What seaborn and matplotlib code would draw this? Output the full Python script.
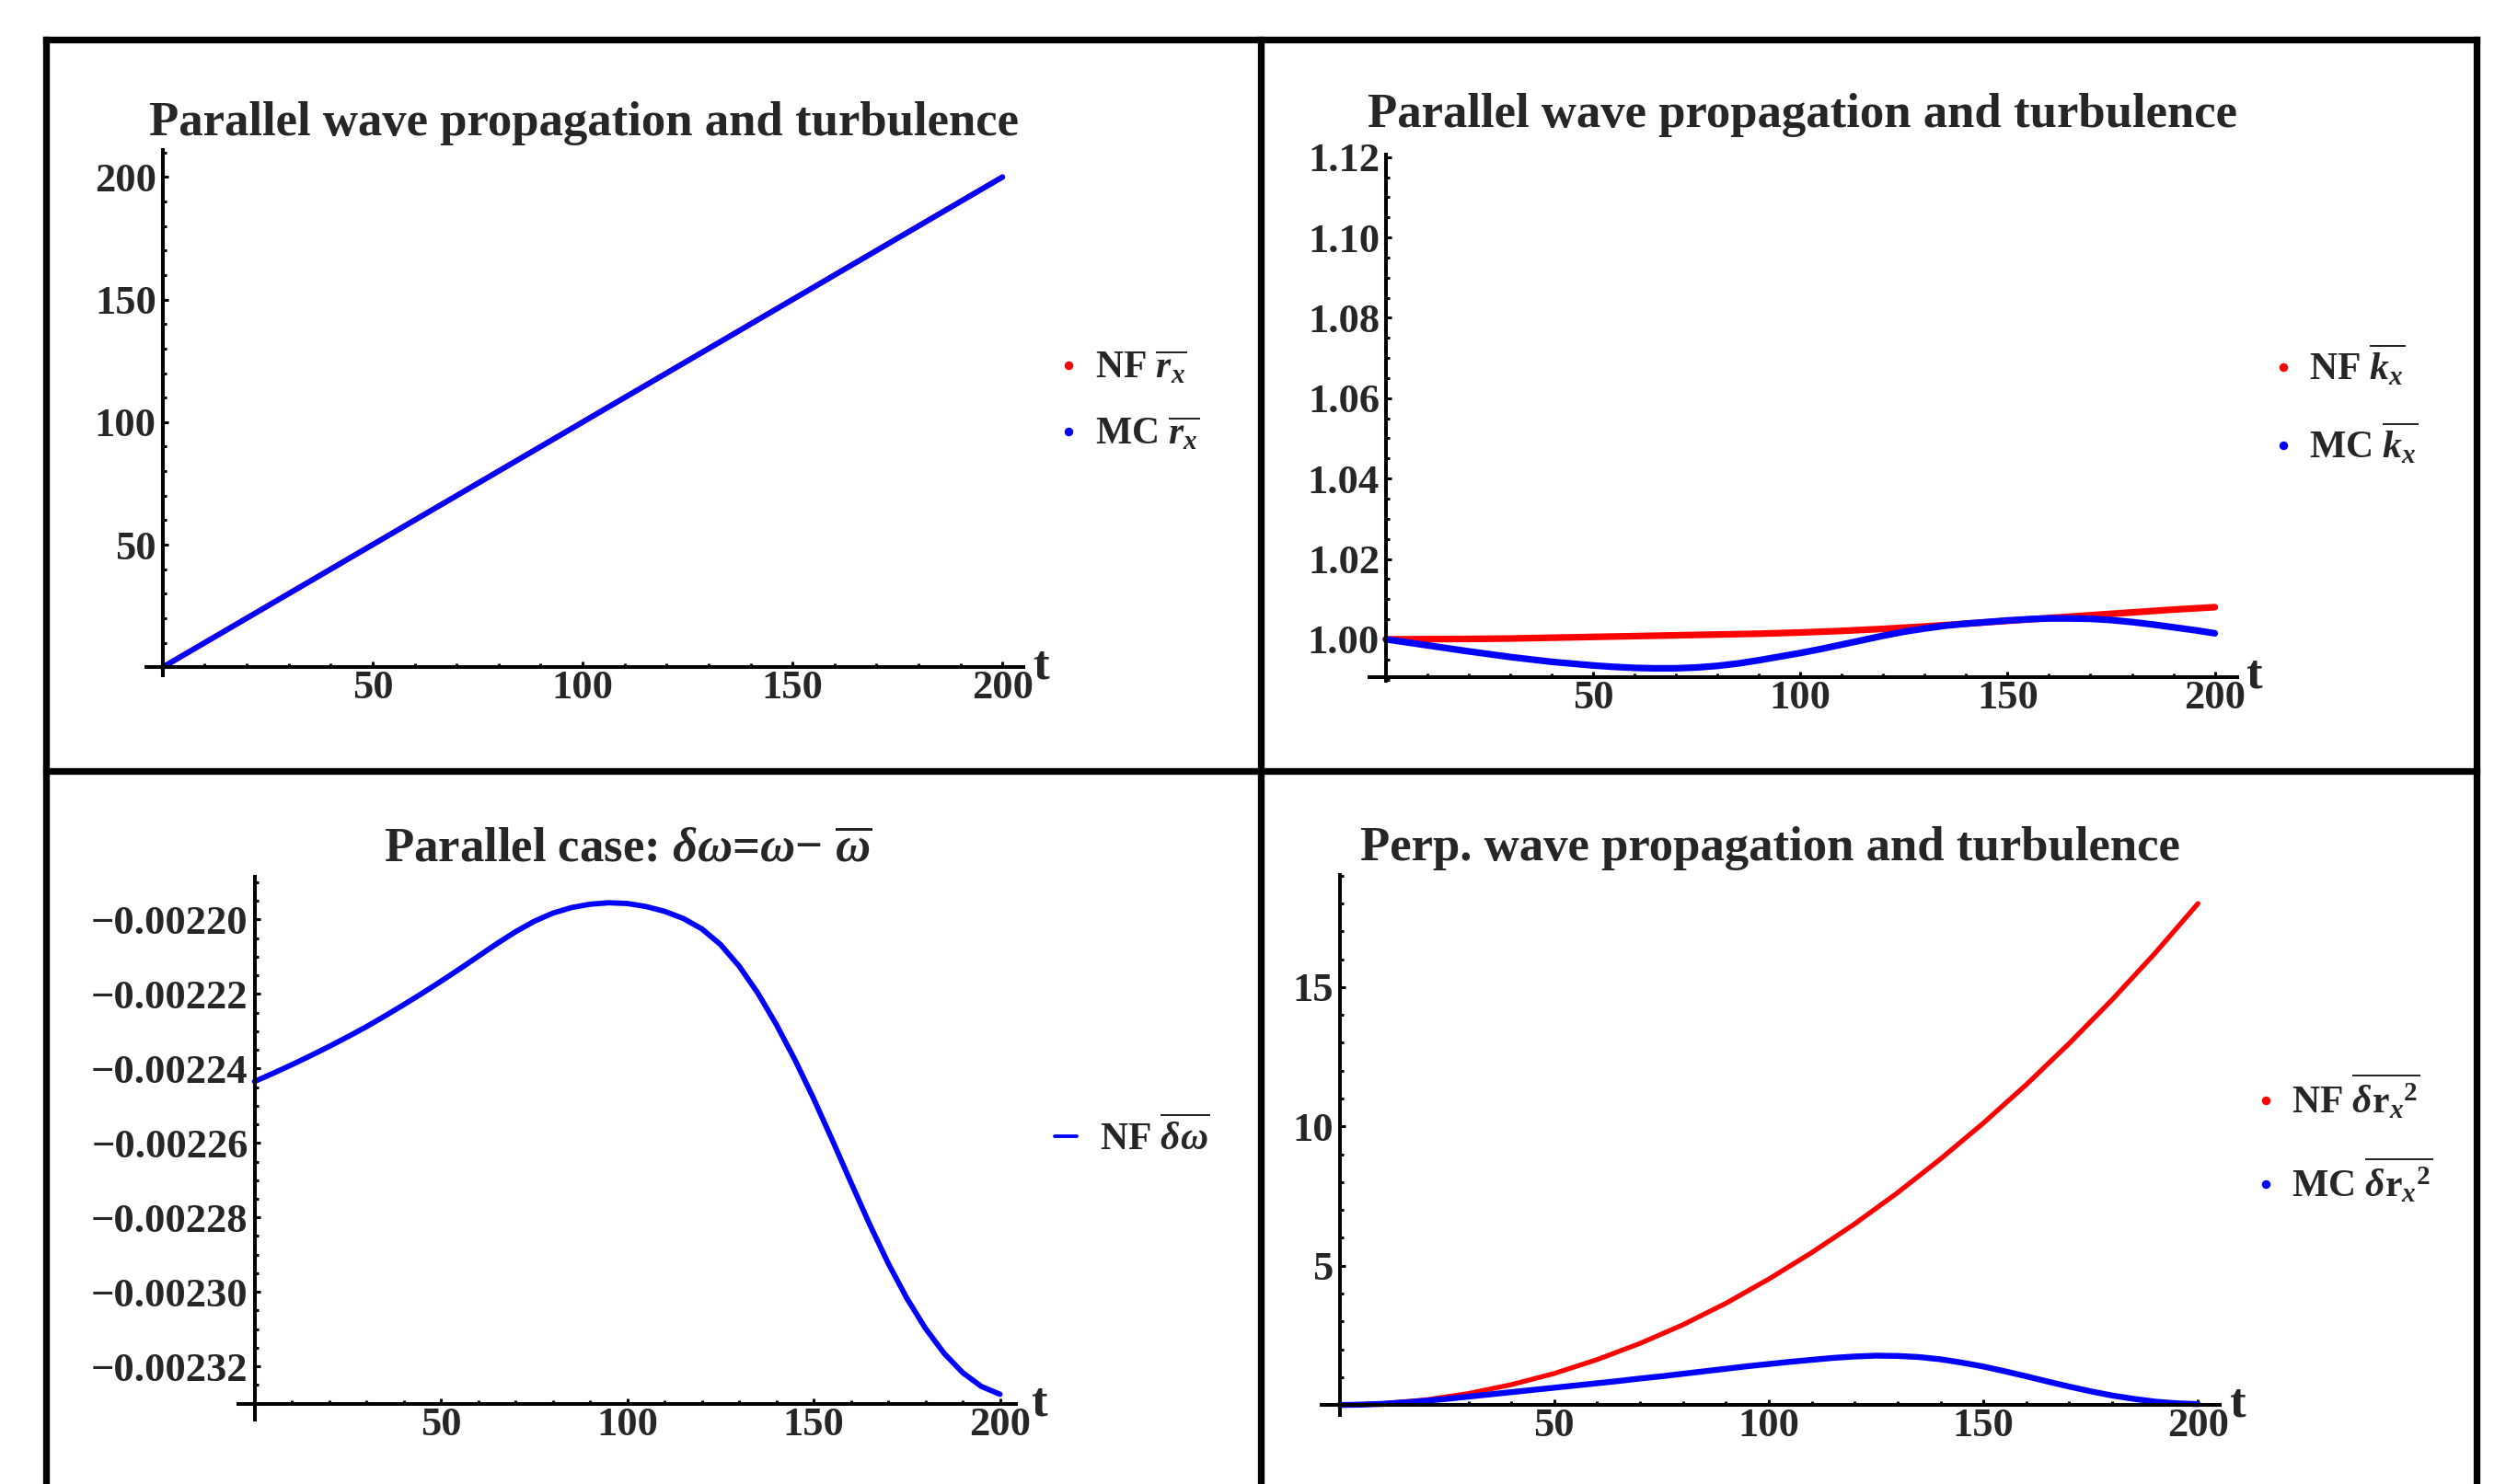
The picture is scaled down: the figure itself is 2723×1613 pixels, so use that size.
import matplotlib
matplotlib.use('Agg')
import matplotlib.pyplot as plt
import seaborn as sns
from matplotlib.lines import Line2D
from matplotlib.ticker import FixedLocator, MultipleLocator, FuncFormatter

# time grids
t10 = [0, 10, 20, 30, 40, 50, 60, 70, 80, 90, 100,
       110, 120, 130, 140, 150, 160, 170, 180, 190, 200]
t5 = [0, 5, 10, 15, 20, 25, 30, 35, 40, 45, 50, 55, 60, 65, 70, 75, 80, 85, 90, 95, 100,
      105, 110, 115, 120, 125, 130, 135, 140, 145, 150, 155, 160, 165, 170, 175, 180,
      185, 190, 195, 200]

# parallel: mean r_x
rx_nf = [0, 10, 20, 30, 40, 50, 60, 70, 80, 90, 100,
         110, 120, 130, 140, 150, 160, 170, 180, 190, 200]
rx_mc = [0, 10, 20, 30, 40, 50, 60, 70, 80, 90, 100,
         110, 120, 130, 140, 150, 160, 170, 180, 190, 200]

# parallel: mean k_x (NF on t10, MC on t5)
kx_nf = [1.0000, 1.00005, 1.0001, 1.0002, 1.0004, 1.0006, 1.0008, 1.0010, 1.0012, 1.0014, 1.0017,
         1.0021, 1.0026, 1.0032, 1.0039, 1.0046, 1.0053, 1.0060, 1.0067, 1.0074, 1.0080]
kx_mc = [1.0000, 0.99925, 0.9985, 0.99775, 0.9970, 0.9963, 0.9956, 0.9950, 0.9944, 0.99395,
         0.9935, 0.99315, 0.9929, 0.99278, 0.9928, 0.9930, 0.9934, 0.9940, 0.9948, 0.9957,
         0.9966, 0.9976, 0.9987, 0.9998, 1.0009, 1.0019, 1.0027, 1.0034, 1.0039, 1.0043,
         1.0047, 1.0050, 1.0052, 1.0052, 1.0051, 1.0048, 1.0043, 1.0037, 1.0030, 1.0023, 1.0015]

# parallel: delta omega (t5)
dw_nf = [-0.0022435, -0.0022413, -0.0022390, -0.0022366, -0.0022341, -0.0022315, -0.0022288,
         -0.0022259, -0.0022229, -0.0022198, -0.0022166, -0.0022133, -0.0022099, -0.0022065,
         -0.0022033, -0.0022005, -0.0021983, -0.0021968, -0.0021959, -0.0021955, -0.0021957,
         -0.0021965, -0.0021978, -0.0021997, -0.0022025, -0.0022067, -0.0022125, -0.0022197,
         -0.0022282, -0.0022377, -0.0022481, -0.0022592, -0.0022706, -0.0022818, -0.0022923,
         -0.0023017, -0.0023098, -0.0023165, -0.0023217, -0.0023254, -0.0023275]

# perpendicular: delta r_x^2 (NF on t10, MC on t5)
dr2_nf = [0, 0.05, 0.18, 0.41, 0.73, 1.13, 1.63, 2.21, 2.88, 3.65, 4.52,
          5.47, 6.50, 7.62, 8.83, 10.12, 11.50, 12.98, 14.55, 16.22, 18.0]
dr2_mc = [0, 0.01, 0.04, 0.09, 0.15, 0.22, 0.30, 0.38, 0.46, 0.54, 0.62, 0.70, 0.78, 0.86,
          0.95, 1.03, 1.12, 1.21, 1.30, 1.39, 1.47, 1.55, 1.62, 1.69, 1.74, 1.77, 1.76, 1.72,
          1.64, 1.52, 1.38, 1.21, 1.03, 0.84, 0.66, 0.49, 0.34, 0.22, 0.12, 0.06, 0.03]

t_ticks = [50, 100, 150, 200]
rx_ticks = [50, 100, 150, 200]
kx_ticks = [1.00, 1.02, 1.04, 1.06, 1.08, 1.10, 1.12]
dw_ticks = [-0.00232, -0.00230, -0.00228, -0.00226, -0.00224, -0.00222, -0.00220]
dr2_ticks = [5, 10, 15]

sns.set_style('white')
plt.rcParams['font.family'] = ['Liberation Serif', 'DejaVu Serif']
plt.rcParams['font.weight'] = 'bold'
plt.rcParams['mathtext.fontset'] = 'custom'
plt.rcParams['mathtext.rm'] = 'Liberation Serif:bold'
plt.rcParams['mathtext.bf'] = 'Liberation Serif:bold'
plt.rcParams['mathtext.it'] = 'Liberation Serif:italic:bold'
plt.rcParams['axes.unicode_minus'] = True

W, H = 2723, 1613
fig = plt.figure(figsize=(W / 200, H / 200), dpi=200)
fig.patch.set_facecolor('white')


def px_axes(box):
    l, t, r, b = box
    return fig.add_axes([l / W, 1 - b / H, (r - l) / W, (b - t) / H])


def style_axes(ax, xlim, ylim, x_axis_y, yticks, yminor, yfmt, t_dx=3.5):
    ax.set_xlim(xlim)
    ax.set_ylim(ylim)
    ax.patch.set_alpha(0)
    ax.set_xlabel('')
    ax.set_ylabel('')
    for s in ('top', 'right'):
        ax.spines[s].set_visible(False)
    ax.spines['left'].set_position(('data', 0))
    ax.spines['bottom'].set_position(('data', x_axis_y))
    for s in ('left', 'bottom'):
        ax.spines[s].set_linewidth(1.45)
        ax.spines[s].set_color('black')
    ax.xaxis.set_major_locator(FixedLocator(t_ticks))
    ax.xaxis.set_minor_locator(MultipleLocator(10))
    ax.xaxis.set_major_formatter(FuncFormatter(lambda v, p: '%d' % v))
    ax.yaxis.set_major_locator(FixedLocator(yticks))
    ax.yaxis.set_minor_locator(MultipleLocator(yminor))
    ax.yaxis.set_major_formatter(FuncFormatter(yfmt))
    ax.tick_params(which='both', direction='in', color='black', width=1.1,
                   bottom=True, left=True, top=False, right=False)
    ax.tick_params(which='major', length=2.3, labelsize=16)
    ax.tick_params(which='minor', length=1.3)
    ax.tick_params(axis='x', pad=1)
    ax.tick_params(axis='y', pad=2.5)
    ax.annotate('t', xy=(1, x_axis_y), xycoords=('axes fraction', 'data'),
                xytext=(t_dx, -4.3), textcoords='offset points', fontsize=19,
                ha='left', va='baseline', annotation_clip=False)


def dot(c):
    return Line2D([], [], ls='', marker='o', ms=2.4, color=c)


def add_legend(ax, handles, labels, left_px, cy_px, hl, htp, ls):
    ax.legend(handles, labels, loc='center left',
              bbox_to_anchor=(left_px / W, 1 - cy_px / H), bbox_transform=fig.transFigure,
              frameon=False, fontsize=15, handlelength=hl, handletextpad=htp,
              labelspacing=ls, borderpad=0, borderaxespad=0, handleheight=0.7)


def title(cx, base, s):
    fig.text(cx / W, 1 - base / H, s, ha='center', va='baseline', fontsize=19)


int_fmt = lambda v, p: '%d' % v

# top left: r_x
ax1 = px_axes((158.5, 163.1, 1112.1, 734.3))
sns.lineplot(x=t10, y=rx_nf, ax=ax1, color='red', linewidth=2.1, legend=False)
sns.lineplot(x=t10, y=rx_mc, ax=ax1, color='blue', linewidth=2.1, legend=False)
style_axes(ax1, (-4, 205), (-3.4, 211), 0, rx_ticks, 10, int_fmt)
add_legend(ax1, [dot('red'), dot('blue')],
           [r'NF $\overline{r_x}$', r'MC $\overline{r_x}$'], 1144, 436, 0.8, 0.31, 0.75)
title(634, 147, 'Parallel wave propagation and turbulence')

# top right: k_x
ax2 = px_axes((1488, 168.1, 2430.9, 739.9))
sns.lineplot(x=t10, y=kx_nf, ax=ax2, color='red', linewidth=2.6, legend=False)
sns.lineplot(x=t5, y=kx_mc, ax=ax2, color='blue', linewidth=2.6, legend=False)
style_axes(ax2, (-4, 205.4), (0.9897, 1.1206), 0.9906, kx_ticks, 0.005,
           lambda v, p: '%.2f' % v)
add_legend(ax2, [dot('red'), dot('blue')],
           [r'NF $\overline{k_x}$', r'MC $\overline{k_x}$'], 2464, 440, 0.8, 0.28, 0.85)
title(1958.5, 138, 'Parallel wave propagation and turbulence')

# bottom left: delta omega
ax3 = px_axes((259.1, 952.5, 1103.6, 1543.4))
sns.lineplot(x=t5, y=dw_nf, ax=ax3, color='blue', linewidth=2.1, legend=False)
style_axes(ax3, (-4.3, 204.2), (-0.0023344, -0.0021884), -0.0023302, dw_ticks, 0.000005,
           lambda v, p: '\u2212%.5f' % abs(v) if v < 0 else '%.5f' % v, t_dx=6)
add_legend(ax3, [Line2D([], [], color='blue', lw=1.4)],
           [r'NF $\overline{\delta\omega}$'], 1145.5, 1236, 0.58, 0.6, 0.8)
title(681.7, 936, 'Parallel case: $\\delta\\omega$=$\\omega$\u2212 $\\overline{\\omega}$')

# bottom right: delta r_x^2
ax4 = px_axes((1436.5, 950.6, 2412.1, 1538.0))
sns.lineplot(x=t10, y=dr2_nf, ax=ax4, color='red', linewidth=1.9, legend=False)
sns.lineplot(x=t5, y=dr2_mc, ax=ax4, color='blue', linewidth=2.3, legend=False)
style_axes(ax4, (-4.1, 205.1), (-0.36, 19.04), 0, dr2_ticks, 1, int_fmt)
add_legend(ax4, [dot('red'), dot('blue')],
           [r'NF $\overline{\delta{\mathrm{r}_x}^2}$', r'MC $\overline{\delta{\mathrm{r}_x}^2}$'],
           2445, 1238, 0.8, 0.28, 0.9)
title(1923, 935, 'Perp. wave propagation and turbulence')

# table frame
lw_frame = 7.3 * 72 / 200
frame = [((49.7, 2691.3), (43, 43)),
         ((49.7, 2691.3), (838, 838)),
         ((49.7, 49.7), (43, 1625)),
         ((1370, 1370), (43, 1625)),
         ((2691.3, 2691.3), (43, 1625))]
for xs, ys in frame:
    fig.add_artist(Line2D([x / W for x in xs], [1 - y / H for y in ys],
                          transform=fig.transFigure, color='black', lw=lw_frame,
                          solid_capstyle='projecting'))

fig.savefig('out.png', dpi=200, facecolor='white')
